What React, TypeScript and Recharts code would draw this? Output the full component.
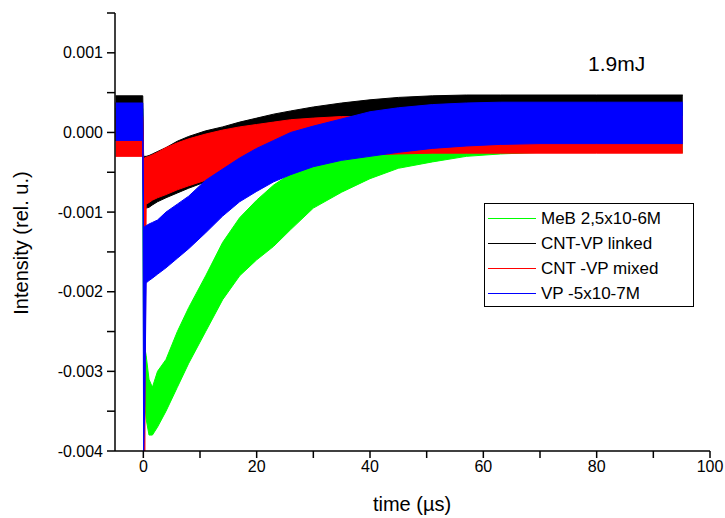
import { ComposedChart, Area, XAxis, YAxis } from 'recharts';

// time points (µs) at which the band edges were read
const times = [-4.9, -0.1, 0.05, 0.25, 0.5, 1, 1.6, 2.5, 4, 6, 8, 11, 14, 17, 20, 23, 26, 30, 35, 40, 45, 51, 57, 63, 70, 80, 95.2];

// lower / upper edge of each noisy trace
const greenLow = [-0.00005, -0.00005, -0.0032, -0.0034, -0.0036, -0.0038, -0.0038, -0.0037, -0.0035, -0.0032, -0.0029, -0.0025, -0.0021, -0.0018, -0.0016, -0.00143, -0.00122, -0.00095, -0.00075, -0.00058, -0.00045, -0.00037, -0.0003, -0.00027, -0.00025, -0.00025, -0.00025];
const greenHigh = [0.0003, 0.0003, -0.0026, -0.0027, -0.0028, -0.0031, -0.0032, -0.003, -0.00285, -0.0025, -0.0022, -0.0018, -0.00138, -0.00107, -0.00085, -0.00066, -0.00052, -0.0004, -0.0003, -0.0002, -0.00012, -0.00005, 0, 0, 0, 0, 0];

const blackLow = [-0.0001, -0.0001, -0.00095, -0.00096, -0.00095, -0.00094, -0.00091, -0.00087, -0.00082, -0.00076, -0.0007, -0.00062, -0.00055, -0.00048, -0.00042, -0.00036, -0.00031, -0.00026, -0.00021, -0.00017, -0.00014, -0.00012, -0.0001, -0.0001, -0.0001, -0.0001, -0.0001];
const blackHigh = [0.00046, 0.00046, -0.0003, -0.0003, -0.0003, -0.00029, -0.00027, -0.00024, -0.00019, -0.00011, -0.00005, 0.00002, 0.00007, 0.00013, 0.00018, 0.00023, 0.00027, 0.00032, 0.00037, 0.00041, 0.00044, 0.00046, 0.00047, 0.00047, 0.00047, 0.00047, 0.00047];

const redLow = [-0.0003, -0.0003, -0.0009, -0.004, -0.0009, -0.00088, -0.00085, -0.00082, -0.00078, -0.00072, -0.00067, -0.0006, -0.00054, -0.00048, -0.00043, -0.00039, -0.00036, -0.00033, -0.0003, -0.00028, -0.00027, -0.00026, -0.00026, -0.00026, -0.00026, -0.00026, -0.00026];
const redHigh = [0.0002, 0.0002, -0.00032, -0.00032, -0.00031, -0.0003, -0.00028, -0.00025, -0.00019, -0.00013, -0.00008, -0.00002, 0.00003, 0.00007, 0.0001, 0.00013, 0.00016, 0.00018, 0.0002, 0.0002, 0.0002, 0.0002, 0.0002, 0.0002, 0.0002, 0.0002, 0.0002];

const blueLow = [-0.0001, -0.0001, -0.004, -0.0034, -0.00189, -0.00186, -0.00183, -0.00178, -0.0017, -0.00158, -0.00146, -0.00126, -0.00105, -0.00087, -0.00074, -0.00062, -0.00053, -0.00043, -0.00035, -0.0003, -0.00025, -0.0002, -0.00017, -0.00015, -0.00014, -0.00014, -0.00014];
const blueHigh = [0.00037, 0.00037, -0.0012, -0.00118, -0.00117, -0.00115, -0.00113, -0.0011, -0.001, -0.0009, -0.0008, -0.0006, -0.00046, -0.00032, -0.0002, -0.0001, 0, 0.00008, 0.00017, 0.00026, 0.00031, 0.00035, 0.00037, 0.00038, 0.00038, 0.00038, 0.00038];

const seriesNames = ['MeB 2,5x10-6M', 'CNT-VP linked', 'CNT -VP mixed', 'VP -5x10-7M'];
const seriesKeys = ['green', 'black', 'red', 'blue'];
const seriesColors = ['#00ff00', '#000000', '#ff0000', '#0000ff'];

const xTicks = [0, 10, 20, 30, 40, 50, 60, 70, 80, 90, 100];
const yTicks = [-0.004, -0.0035, -0.003, -0.0025, -0.002, -0.0015, -0.001, -0.0005, 0, 0.0005, 0.001, 0.0015];

const data = times.map((t, i) => ({
  t,
  green: [greenLow[i], greenHigh[i]],
  black: [blackLow[i], blackHigh[i]],
  red: [redLow[i], redHigh[i]],
  blue: [blueLow[i], blueHigh[i]],
}));

const FONT = '"Liberation Sans", Arial, sans-serif';

const fmtX = (v: number) => (v % 20 === 0 ? String(v) : '');
const fmtY = (v: number) => (Math.round(v * 2000) % 2 === 0 ? v.toFixed(3) : '');

const YTitle = () => (
  <text x={28} y={243} transform="rotate(-90 28 243)" textAnchor="middle" fill="#000" fontSize={20} fontFamily={FONT}>
    Intensity (rel. u.)
  </text>
);

const XTitle = () => (
  <text x={412} y={511} textAnchor="middle" fill="#000" fontSize={20} fontFamily={FONT}>
    time (µs)
  </text>
);

export default function App() {
  return (
    <div style={{ position: 'absolute', left: 0, top: 0, width: 725, height: 518, background: '#fff', fontFamily: FONT }}>
      <ComposedChart width={725} height={518} data={data} margin={{ top: 13, right: 15, bottom: 0, left: 0 }}>
        <XAxis
          dataKey="t"
          type="number"
          domain={[-5, 100]}
          ticks={xTicks}
          tickFormatter={fmtX}
          allowDataOverflow
          height={67}
          tickSize={7}
          tickMargin={3}
          axisLine={{ stroke: '#000', strokeWidth: 1.5 }}
          tickLine={{ stroke: '#000', strokeWidth: 1.5 }}
          tick={{ fill: '#000', fontSize: 16, fontFamily: FONT }}
          label={<XTitle />}
        />
        <YAxis
          type="number"
          domain={[-0.004, 0.0015]}
          ticks={yTicks}
          tickFormatter={fmtY}
          allowDataOverflow
          width={115}
          tickSize={8}
          tickMargin={4}
          axisLine={{ stroke: '#000', strokeWidth: 1.5 }}
          tickLine={{ stroke: '#000', strokeWidth: 1.5 }}
          tick={{ fill: '#000', fontSize: 16, fontFamily: FONT }}
          label={<YTitle />}
        />
        {seriesKeys.map((k, i) => (
          <Area
            key={k}
            type="linear"
            dataKey={k}
            name={seriesNames[i]}
            stroke={seriesColors[i]}
            strokeWidth={1}
            fill={seriesColors[i]}
            fillOpacity={1}
            dot={false}
            activeDot={false}
            isAnimationActive={false}
          />
        ))}
      </ComposedChart>
      <div style={{ position: 'absolute', left: 588, top: 52, fontSize: 21, color: '#000' }}>1.9mJ</div>
      <div
        style={{
          position: 'absolute',
          left: 484,
          top: 203,
          width: 210,
          height: 104,
          border: '1px solid #000',
          background: '#fff',
          boxSizing: 'border-box',
          paddingTop: 2,
        }}
      >
        {seriesNames.map((n, i) => (
          <div key={n} style={{ display: 'flex', alignItems: 'center', height: 25, fontSize: 17, color: '#000' }}>
            <div style={{ width: 48, height: 1, background: seriesColors[i], marginLeft: 3, marginRight: 5 }} />
            <span>{n}</span>
          </div>
        ))}
      </div>
    </div>
  );
}
